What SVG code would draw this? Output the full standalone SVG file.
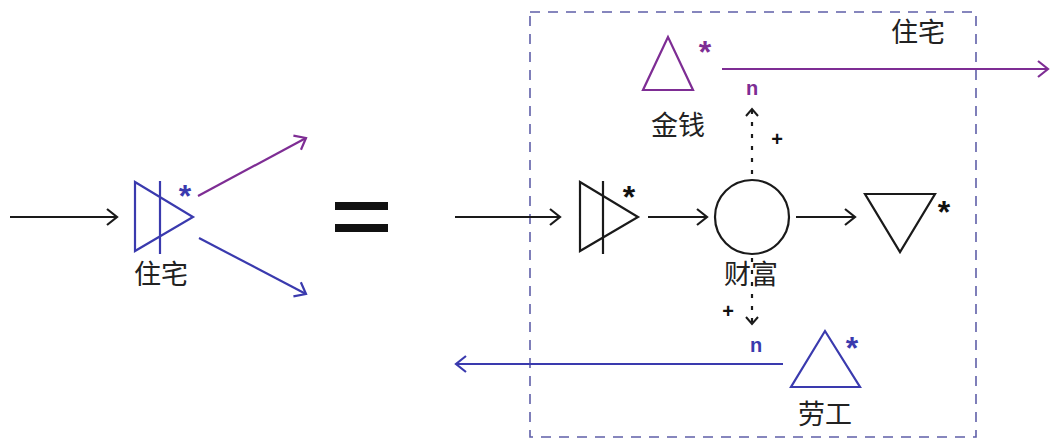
<svg xmlns="http://www.w3.org/2000/svg" width="1052" height="444" viewBox="0 0 1052 444">
<defs>
<style>
.k{stroke:#1a1a1a;fill:none;stroke-width:2.2}
.p{stroke:#7e2d94;fill:none;stroke-width:2.2}
.b{stroke:#3a3aae;fill:none;stroke-width:2.2}
.t{font-family:"Noto Sans CJK SC","Noto Sans",sans-serif;font-size:27px;fill:#222;text-anchor:middle}
.s{font-family:"Liberation Sans",sans-serif;font-weight:bold;font-size:32px;text-anchor:middle}
.sm{font-family:"Liberation Sans",sans-serif;font-weight:bold;font-size:20px;text-anchor:middle}
</style>
<marker id="ak" markerWidth="14" markerHeight="18" refX="12" refY="9" orient="auto" markerUnits="userSpaceOnUse"><path d="M2,1 L12,9 L2,17" fill="none" stroke="#1a1a1a" stroke-width="2.2"/></marker>
<marker id="ad" markerWidth="12" markerHeight="14" refX="9" refY="7" orient="auto" markerUnits="userSpaceOnUse"><path d="M2,1 L9,7 L2,13" fill="none" stroke="#1a1a1a" stroke-width="2"/></marker>
<marker id="ap" markerWidth="14" markerHeight="18" refX="12" refY="9" orient="auto" markerUnits="userSpaceOnUse"><path d="M2,1 L12,9 L2,17" fill="none" stroke="#7e2d94" stroke-width="2.2"/></marker>
<marker id="ab" markerWidth="14" markerHeight="18" refX="12" refY="9" orient="auto" markerUnits="userSpaceOnUse"><path d="M2,1 L12,9 L2,17" fill="none" stroke="#3a3aae" stroke-width="2.2"/></marker>
</defs>
<rect width="1052" height="444" fill="#fff"/>
<rect x="530" y="12" width="446" height="425" fill="none" stroke="#5f5fa8" stroke-width="1.6" stroke-dasharray="10,8"/>
<g id="left-node">
<path class="b" d="M135,182 L135,251 L193,217 Z M160,181 L160,254"/>
<text class="s" x="185" y="207" fill="#3a3aae">*</text>
<text class="t" x="161" y="284">住宅</text>
</g>
<g id="equals"><rect x="335" y="202" width="53" height="8" fill="#111"/><rect x="335" y="224" width="53" height="8" fill="#111"/></g>
<g id="inflow">
<path class="k" d="M580,182 L580,251 L638,217 Z M603,181 L603,254"/>
<text class="s" x="629" y="208" fill="#111">*</text>
</g>
<g id="wealth"><circle class="k" cx="752" cy="217" r="37"/><text class="t" x="751" y="284">财富</text></g>
<g id="outflow"><path class="k" d="M865,194 L935,194 L900,252 Z"/><text class="s" x="944" y="223" fill="#111">*</text></g>
<g id="money"><path class="p" d="M668,37 L643,90 L693,90 Z"/><text class="s" x="705" y="63" fill="#7e2d94">*</text><text class="t" x="678" y="135">金钱</text></g>
<g id="labor"><path class="b" d="M825,331 L791,387 L860,387 Z"/><text class="s" x="852" y="359" fill="#3a3aae">*</text><text class="t" x="825" y="424">劳工</text></g>
<g id="connectors">
<line class="k" x1="10" y1="217" x2="117" y2="217" marker-end="url(#ak)"/>
<line class="p" x1="198" y1="196" x2="306" y2="138" marker-end="url(#ap)"/>
<line class="b" x1="199" y1="238" x2="306" y2="294" marker-end="url(#ab)"/>
<line class="k" x1="455" y1="217" x2="560" y2="217" marker-end="url(#ak)"/>
<line class="k" x1="648" y1="217" x2="707" y2="217" marker-end="url(#ak)"/>
<line class="k" x1="796" y1="217" x2="855" y2="217" marker-end="url(#ak)"/>
<line class="p" x1="722" y1="69" x2="1048" y2="69" marker-end="url(#ap)"/>
<line class="b" x1="783" y1="364" x2="456" y2="364" marker-end="url(#ab)"/>
<line class="k" x1="752" y1="174" x2="752" y2="109" stroke-dasharray="4,8" marker-end="url(#ad)"/>
<line class="k" x1="752" y1="258" x2="752" y2="324" stroke-dasharray="4,8" marker-end="url(#ad)"/>
<text class="t" x="918" y="42">住宅</text>
<text class="sm" x="752" y="95" fill="#7e2d94">n</text>
<text class="sm" x="777" y="146" fill="#111">+</text>
<text class="sm" x="728" y="318" fill="#111">+</text>
<text class="sm" x="756" y="352" fill="#3a3aae">n</text>
</g>
</svg>
